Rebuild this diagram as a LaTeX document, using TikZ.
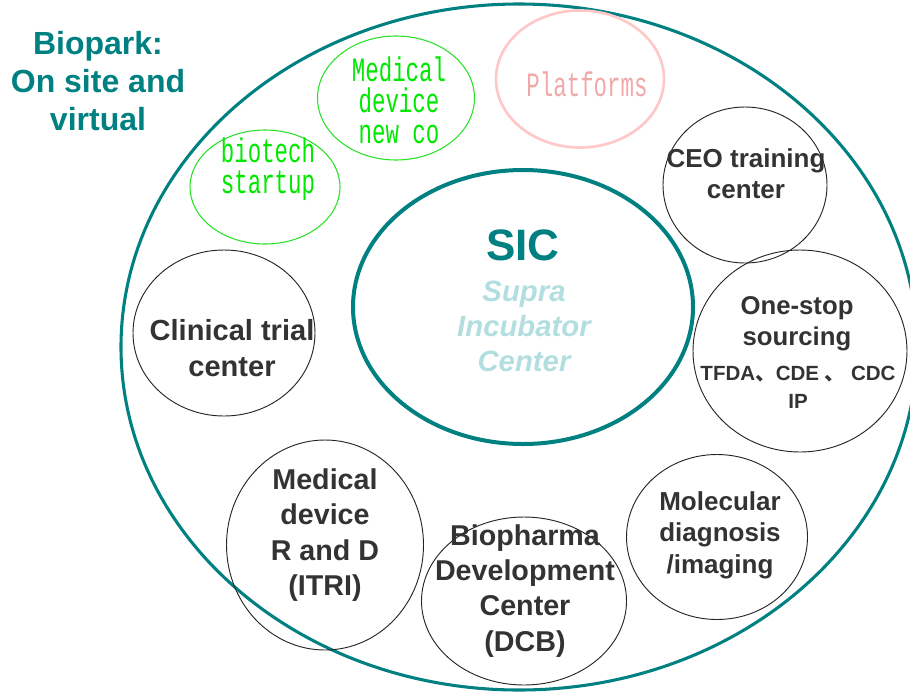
\documentclass[tikz,border=0pt]{standalone}
\usepackage{fontspec}
\usepackage{graphicx}
\setmainfont{Liberation Sans}
\newfontfamily\monof{Liberation Mono}
\newfontfamily\cjkf{Noto Sans CJK SC}
\usetikzlibrary{shapes.geometric}
\definecolor{tealc}{RGB}{0,128,128}
\definecolor{lteal}{RGB}{178,222,224}
\definecolor{dtext}{RGB}{51,51,51}
\definecolor{grn}{RGB}{0,232,0}
\definecolor{grnline}{RGB}{40,225,40}
\definecolor{pinkt}{RGB}{240,168,168}
\definecolor{pinkl}{RGB}{255,200,200}
\newcommand\tallt[1]{\scalebox{0.82}[1.25]{#1}}
\begin{document}
\begin{tikzpicture}[x=0.75pt,y=-0.75pt,
  bub/.style={ellipse,draw=black!85,line width=0.7pt,inner sep=0pt},
  lbl/.style={align=center,inner sep=0pt,text=dtext,font=\bfseries},
  glbl/.style={align=center,inner sep=0pt,text=grn,font=\monof\fontsize{20.5}{23.4}\selectfont,execute at begin node={\lineskiplimit=-30pt\relax}},
]
\useasboundingbox (0,0) rectangle (910,693);
\clip (0,0) rectangle (910,693);
% outer ellipse
\node[ellipse,draw=tealc,line width=2.3pt,minimum width=796*0.75pt,minimum height=686*0.75pt,inner sep=0pt] (park) at (519,347) {};
% SIC
\node[ellipse,draw=tealc,line width=3pt,minimum width=340*0.75pt,minimum height=274*0.75pt,inner sep=0pt] (sic) at (523,307) {};
\node[inner sep=0pt,text=tealc,font=\bfseries\fontsize{33}{36}\selectfont] (sict) at (523,245) {SIC};
\node[align=center,inner sep=0pt,text=lteal,font=\bfseries\itshape\fontsize{22}{26.3}\selectfont] (supra) at (524,326) {Supra\\Incubator\\Center};
% Biopark label
\node[align=center,inner sep=0pt,text=tealc,font=\bfseries\fontsize{24}{28.5}\selectfont] (bp) at (98,81) {Biopark:\\On site and\\virtual};
% circles
\node[bub,minimum width=164*0.75pt,minimum height=156*0.75pt] (ceo) at (745,185) {};
\node[lbl,font=\bfseries\fontsize{19.5}{23.3}\selectfont] (ceot) at (746,174) {CEO training\\center};
\node[bub,minimum width=214*0.75pt,minimum height=202*0.75pt] (one) at (800,351) {};
\node[lbl,font=\bfseries\fontsize{19.3}{23.3}\selectfont] (onet) at (797,324) {One-stop\\sourcing};
\node[lbl,font=\bfseries\fontsize{15.4}{21}\selectfont] (tfda) at (798,387) {TFDA{\cjkf 、}CDE {\cjkf 、} CDC\\IP};
\node[bub,minimum width=181*0.75pt,minimum height=165*0.75pt] (mol) at (717,537) {};
\node[lbl,font=\bfseries\fontsize{19.5}{23.6}\selectfont] (molt) at (720,535) {Molecular\\diagnosis\\/imaging};
\node[bub,minimum width=205*0.75pt,minimum height=168*0.75pt] (bio) at (524,601) {};
\node[lbl,font=\bfseries\fontsize{21.5}{26.3}\selectfont] (biot) at (525,591) {Biopharma\\Development\\Center\\(DCB)};
\node[bub,minimum width=197*0.75pt,minimum height=210*0.75pt] (med) at (325,545) {};
\node[lbl,font=\bfseries\fontsize{21.5}{26.4}\selectfont] (medt) at (325,535) {Medical\\device\\R and D\\(ITRI)};
\node[bub,minimum width=182*0.75pt,minimum height=166*0.75pt] (clin) at (224,333) {};
\node[lbl,font=\bfseries\fontsize{21.8}{27}\selectfont] (clint) at (232,348) {Clinical trial\\center};
% green circles
\node[ellipse,draw=grnline,line width=0.8pt,minimum width=150*0.75pt,minimum height=114*0.75pt,inner sep=0pt] (bst) at (265,187) {};
\node[glbl] (bstt) at (268,169) {\tallt{biotech}\\\tallt{startup}};
\node[ellipse,draw=grnline,line width=0.8pt,minimum width=157*0.75pt,minimum height=124*0.75pt,inner sep=0pt] (mdn) at (396,98) {};
\node[glbl] (mdnt) at (399,100) {\tallt{Medical}\\\tallt{device}\\\tallt{new co}};
% platforms
\node[ellipse,draw=pinkl,line width=2pt,minimum width=168*0.75pt,minimum height=137*0.75pt,inner sep=0pt] (plat) at (580,79) {};
\node[inner sep=0pt,text=pinkt,font=\monof\fontsize{20.5}{24}\selectfont] (platt) at (587,84) {\tallt{Platforms}};
\end{tikzpicture}
\end{document}
